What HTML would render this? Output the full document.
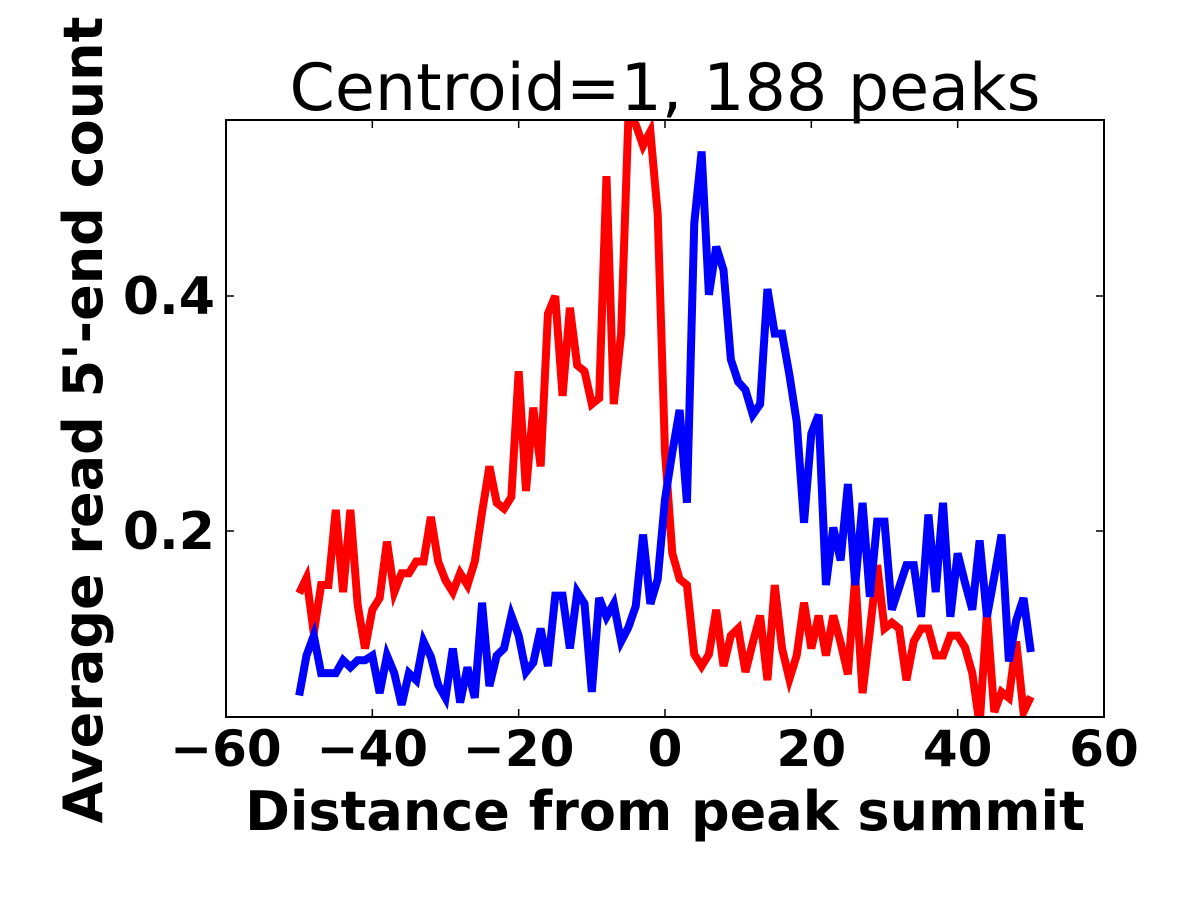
<!DOCTYPE html>
<html><head><meta charset="utf-8"><style>
html,body{margin:0;padding:0;background:#fff;}
svg{display:block;font-family:"DejaVu Sans","Liberation Sans",sans-serif;}
</style></head><body>
<svg id="chart" width="1200" height="900" viewBox="0 0 1200 900" xmlns="http://www.w3.org/2000/svg">
<rect width="1200" height="900" fill="#fff"/>
<text x="665" y="110" font-size="65" text-anchor="middle">Centroid=1, 188 peaks</text>
<text x="665" y="830" font-size="54" font-weight="bold" text-anchor="middle">Distance from peak summit</text>
<text transform="translate(102,420) rotate(-90)" font-size="54" font-weight="bold" text-anchor="middle">Average read 5'-end count</text>
<g id="plot"></g>
</svg>
<script>
const xs = [];
for (let i = -50; i <= 50; i++) xs.push(i);
const redValues = [0.147,0.160,0.113,0.154,0.154,0.218,0.148,0.218,0.137,0.100,0.133,0.143,0.191,0.148,0.164,0.164,0.174,0.174,0.212,0.174,0.158,0.148,0.164,0.154,0.174,0.216,0.255,0.224,0.219,0.229,0.336,0.234,0.305,0.255,0.385,0.400,0.315,0.390,0.341,0.336,0.308,0.313,0.502,0.308,0.368,0.553,0.546,0.528,0.540,0.470,0.267,0.181,0.159,0.154,0.095,0.085,0.095,0.133,0.085,0.111,0.117,0.080,0.105,0.128,0.073,0.154,0.100,0.074,0.094,0.139,0.100,0.128,0.094,0.128,0.105,0.078,0.161,0.062,0.115,0.171,0.117,0.122,0.117,0.073,0.106,0.117,0.117,0.094,0.094,0.111,0.111,0.101,0.079,0.035,0.130,0.046,0.063,0.058,0.106,0.046,0.059];
const blueValues = [0.060,0.094,0.111,0.079,0.079,0.079,0.090,0.084,0.090,0.090,0.094,0.062,0.094,0.079,0.052,0.079,0.073,0.106,0.093,0.069,0.058,0.100,0.054,0.084,0.058,0.139,0.068,0.094,0.100,0.128,0.111,0.080,0.088,0.117,0.085,0.145,0.145,0.100,0.148,0.138,0.063,0.143,0.127,0.138,0.106,0.118,0.136,0.197,0.138,0.159,0.227,0.267,0.303,0.224,0.462,0.523,0.401,0.442,0.422,0.346,0.327,0.320,0.299,0.308,0.406,0.368,0.368,0.333,0.293,0.207,0.283,0.299,0.154,0.203,0.175,0.240,0.154,0.224,0.144,0.208,0.208,0.133,0.152,0.171,0.171,0.127,0.214,0.148,0.224,0.127,0.181,0.156,0.133,0.192,0.127,0.161,0.197,0.089,0.124,0.143,0.097];
const xTicks = [-60,-40,-20,0,20,40,60];
const xTickLabels = ["\u221260","\u221240","\u221220","0","20","40","60"];
const yTicks = [0.2,0.4];
const yTickLabels = ["0.2","0.4"];

const L=226,R=1104,T=120,B=717;
const xMin=-60,xMax=60,yMin=0.0417,yMax=0.5498;
const sx=v=>L+(v-xMin)/(xMax-xMin)*(R-L);
const sy=v=>B-(v-yMin)/(yMax-yMin)*(B-T);
const NS="http://www.w3.org/2000/svg";
const g=document.getElementById('plot');
function mk(tag,attrs){const e=document.createElementNS(NS,tag);for(const k in attrs)e.setAttribute(k,attrs[k]);return e;}

const defs=mk('defs',{});const cp=mk('clipPath',{id:'clip'});cp.appendChild(mk('rect',{x:L,y:T,width:R-L,height:B-T}));defs.appendChild(cp);g.appendChild(defs);

function series(vals,color,name){
  const d=vals.map((v,i)=>(i?'L':'M')+sx(xs[i]).toFixed(2)+','+sy(v).toFixed(2)).join(' ');
  const p=mk('path',{d:d,fill:'none',stroke:color,'stroke-width':8,'stroke-linejoin':'miter','clip-path':'url(#clip)'});
  
  
  g.appendChild(p);
}
series(redValues,'#ff0000','red-series-line');
series(blueValues,'#0000ff','blue-series-line');

const frame=mk('rect',{x:L,y:T,width:R-L,height:B-T,fill:'none',stroke:'#000','stroke-width':2});


g.appendChild(frame);

xTicks.forEach((t,i)=>{
  const x=sx(t);
  const tk=mk('path',{d:`M${x},${B}V${B-8}M${x},${T}V${T+8}`,stroke:'#000','stroke-width':1.5});
  
  
  g.appendChild(tk);
  const tx=mk('text',{x:x,y:766,'font-size':50,'font-weight':'bold','text-anchor':'middle'});
  tx.textContent=xTickLabels[i];
  
  
  g.appendChild(tx);
});
yTicks.forEach((t,i)=>{
  const y=sy(t);
  const tk=mk('path',{d:`M${L},${y}H${L+8}M${R},${y}H${R-8}`,stroke:'#000','stroke-width':1.5});
  
  
  g.appendChild(tk);
  const tx=mk('text',{x:215,y:y+18,'font-size':52,'font-weight':'bold','text-anchor':'end'});
  tx.textContent=yTickLabels[i];
  
  
  g.appendChild(tx);
});
</script>
</body></html>
